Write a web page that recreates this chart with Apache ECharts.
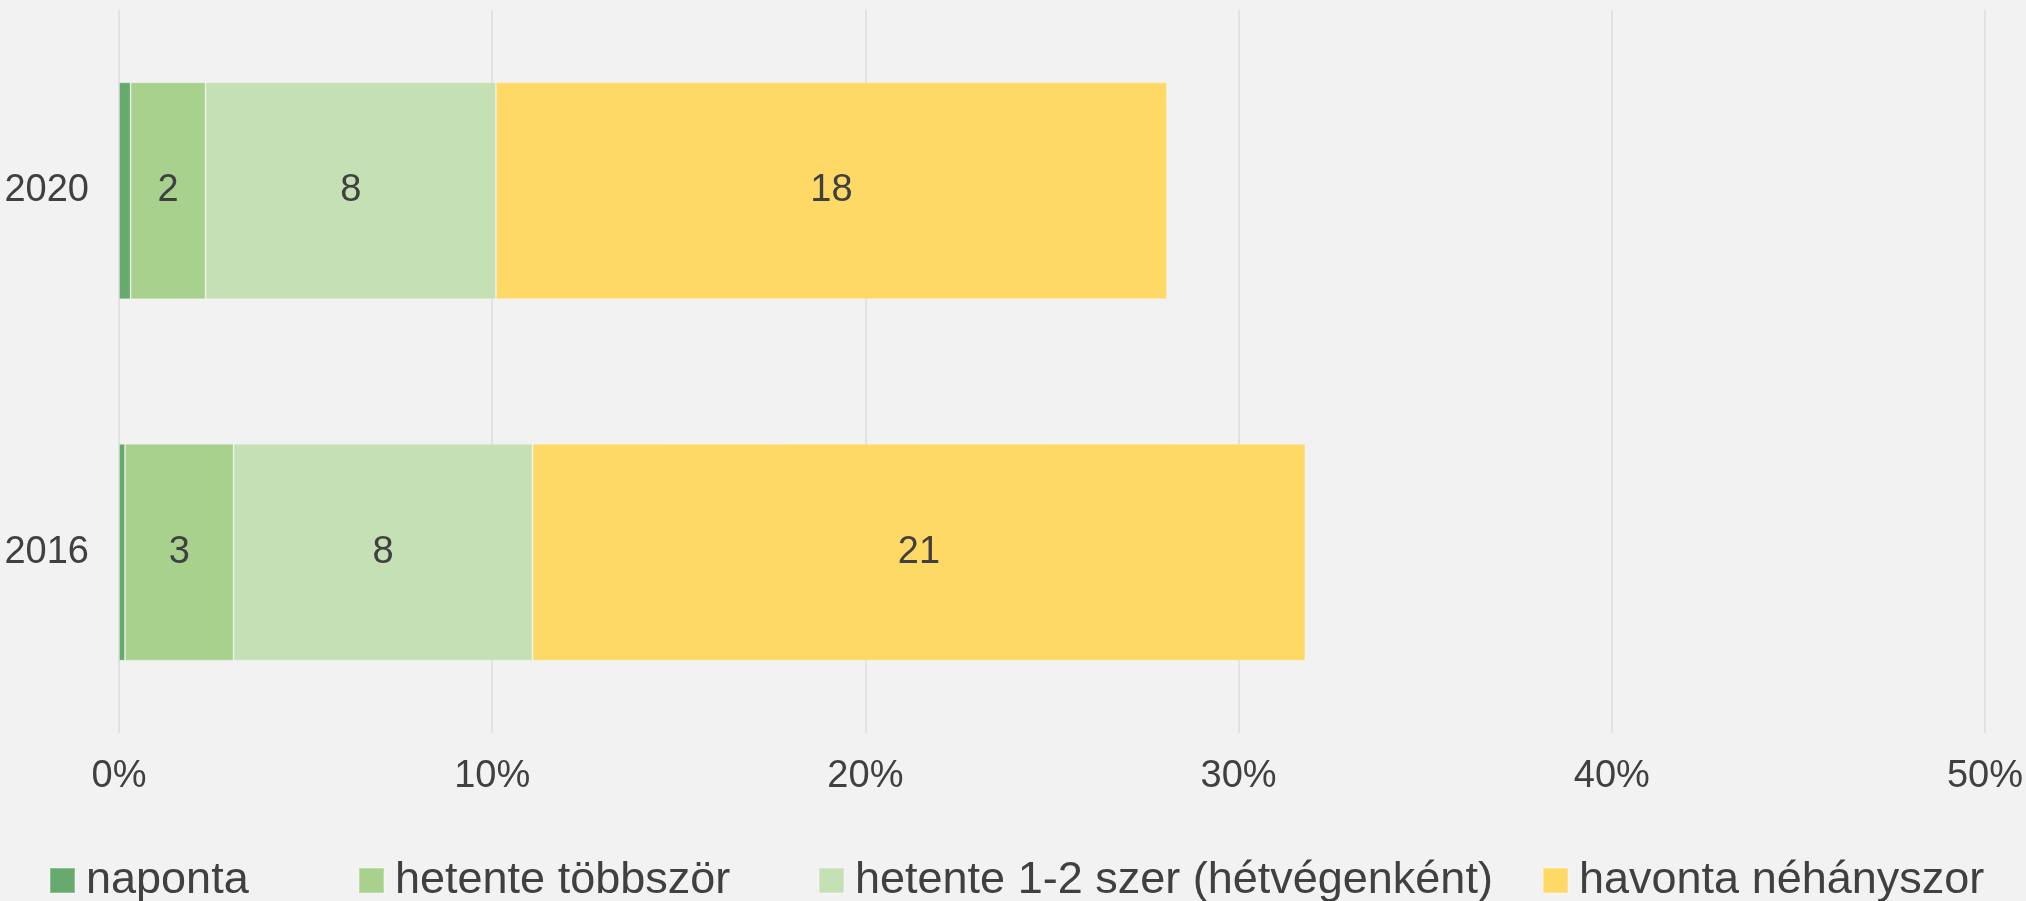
<!DOCTYPE html>
<html>
<head>
<meta charset="utf-8">
<script src="https://cdn.jsdelivr.net/npm/echarts@6/dist/echarts.min.js"></script>
<style>
  html, body { margin: 0; padding: 0; background: #f2f2f2; }
  #chart { width: 2026px; height: 901px; }
</style>
</head>
<body>
<div id="chart"></div>
<script>
// adatok (%)
var years = ["2020", "2016"];
var seriesNames = ["naponta", "hetente többször", "hetente 1-2 szer (hétvégenként)", "havonta néhányszor"];
var naponta = [0.31, 0.16];
var hetenteTobbszor = [2.01, 2.91];
var hetente12 = [7.78, 8.01];
var havonta = [17.98, 20.71];
var xTicks = [0, 10, 20, 30, 40, 50];

var colors = ["#66aa6e", "#a9d18e", "#c5e0b4", "#ffd966"];
var font = "'Liberation Sans Narrow', 'Arial Narrow', 'Liberation Sans', sans-serif";
var textColor = "#404040";

var myChart = echarts.init(document.getElementById("chart"));

function makeSeries(name, data, idx, showLabel) {
  return {
    name: name,
    type: "bar",
    stack: "total",
    barWidth: "60%",
    data: data,
    itemStyle: {
      color: colors[idx],
      borderColor: "rgba(255,255,255,0.25)",
      borderWidth: 1
    },
    label: {
      show: showLabel,
      position: "inside",
      fontFamily: font,
      fontSize: 38,
      color: textColor,
      formatter: function (p) {
        return Math.round(p.value);
      }
    }
  };
}

// legend elemek kézzel elhelyezve
var legendLefts = [44, 353, 813, 1537];
var legends = seriesNames.map(function (n, i) {
  return {
    data: [n],
    left: legendLefts[i],
    top: 853,
    icon: "rect",
    itemWidth: 25,
    itemHeight: 25,
    selectedMode: false,
    textStyle: {
      fontFamily: font,
      fontSize: 45,
      color: textColor,
      padding: [0, 0, 0, 6]
    }
  };
});

var option = {
  backgroundColor: "#f2f2f2",
  animation: false,
  legend: legends,
  grid: { left: 119, right: 41, top: 10, bottom: 168, outerBoundsMode: "none", containLabel: false },
  xAxis: {
    type: "value",
    min: xTicks[0],
    max: xTicks[xTicks.length - 1],
    interval: 10,
    axisLine: { show: false },
    axisTick: { show: false },
    axisLabel: {
      margin: 25,
      fontFamily: font,
      fontSize: 38,
      color: textColor,
      formatter: "{value}%"
    },
    splitLine: { lineStyle: { color: "#dcdcdc", width: 1.5 } }
  },
  yAxis: {
    type: "category",
    data: years,
    inverse: true,
    axisLine: { show: false },
    axisTick: { show: false },
    axisLabel: {
      margin: 30,
      fontFamily: font,
      fontSize: 38,
      color: textColor
    }
  },
  series: [
    makeSeries(seriesNames[0], naponta, 0, false),
    makeSeries(seriesNames[1], hetenteTobbszor, 1, true),
    makeSeries(seriesNames[2], hetente12, 2, true),
    makeSeries(seriesNames[3], havonta, 3, true)
  ]
};

myChart.setOption(option);
</script>
</body>
</html>
